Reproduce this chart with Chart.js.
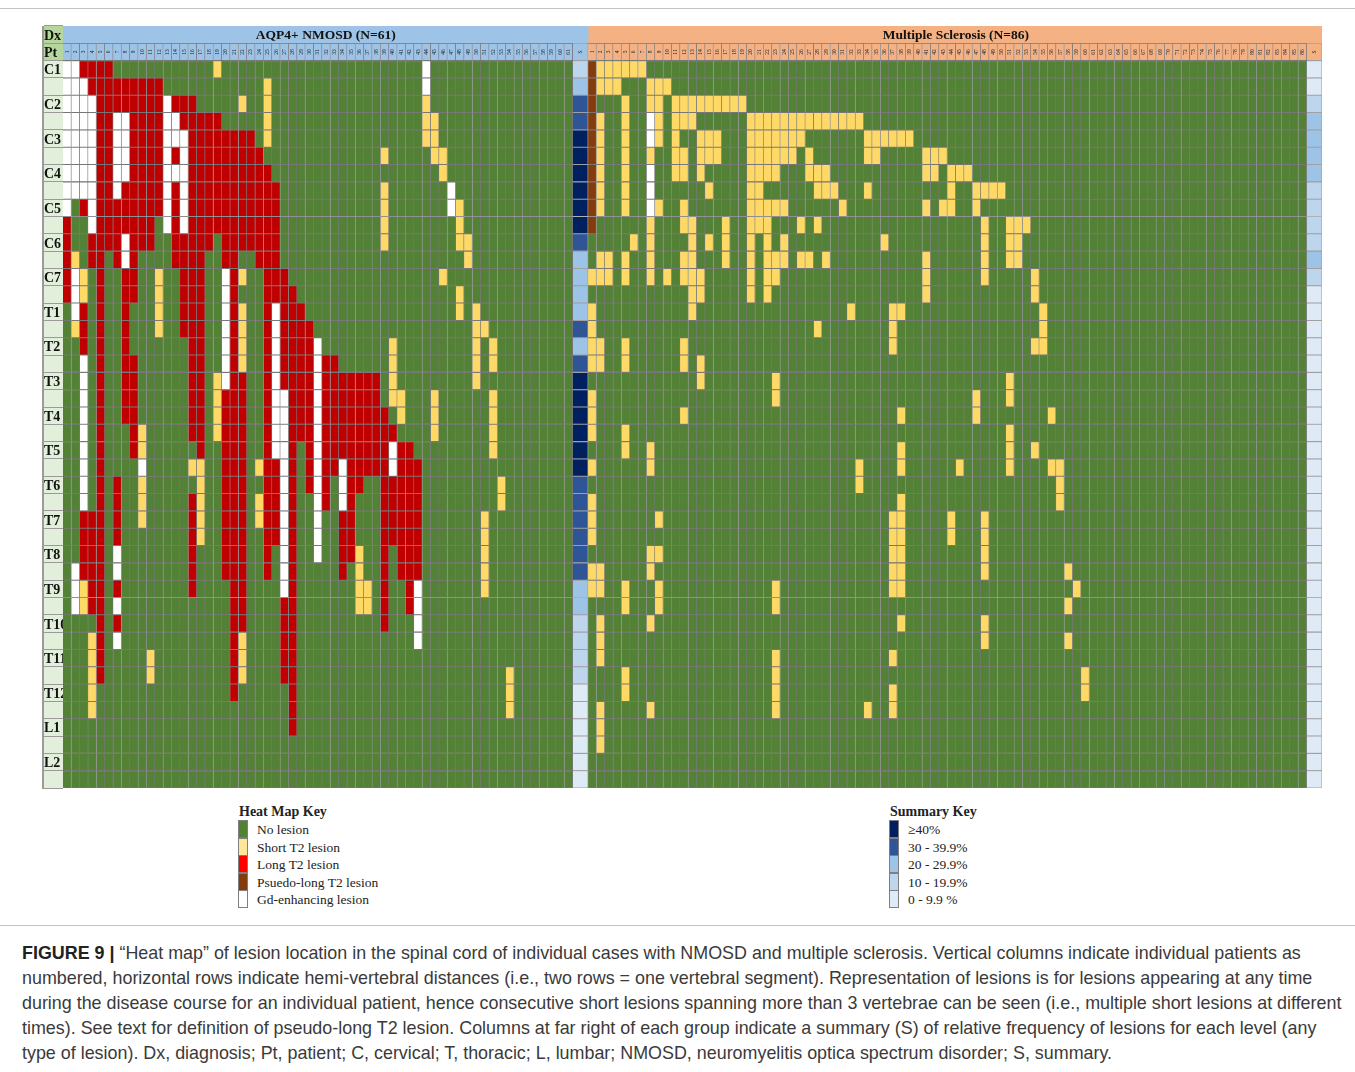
<!DOCTYPE html>
<html>
<head>
<meta charset="utf-8">
<title>Figure 9</title>
<script src="https://cdn.jsdelivr.net/npm/chart.js@4/dist/chart.umd.min.js"></script>
<style>
    html, body { margin: 0; padding: 0; background: #fff; }
    body { position: relative; width: 1355px; height: 1072px; overflow: hidden; }
    #heat_map { position: absolute; left: 0; top: 0; }
    .rule { position: absolute; left: 0; width: 1355px; height: 1px; background: #c4c4c4; }
    .key { position: absolute; font-family: "Liberation Serif", serif; font-size: 13.5px; color: #222; white-space: nowrap; }
    .key b { position: absolute; left: 0; top: 0; font-size: 14px; }
    .key i { position: absolute; width: 8px; height: 16px; border: 1px solid #7f7f7f; }
    .key span { position: absolute; left: 18px; }
    #caption { position: absolute; left: 22px; top: 941px; font-family: "Liberation Sans", sans-serif; font-size: 17.9px; line-height: 25px; color: #3a3a3a; white-space: nowrap; }
    #caption b { color: #222; }
</style>
</head>
<body>
<div class="rule" style="top:8px"></div>
<canvas id="heat_map" width="1355" height="800"></canvas>
<div class="key" id="heat_key" style="left:239px;top:804px"><b>Heat Map Key</b></div>
<div class="key" id="summary_key" style="left:890px;top:804px"><b>Summary Key</b></div>
<div class="rule" style="top:925px"></div>
<div id="caption">
<b>FIGURE 9 |</b> “Heat map” of lesion location in the spinal cord of individual cases with NMOSD and multiple sclerosis. Vertical columns indicate individual patients as<br>
numbered, horizontal rows indicate hemi-vertebral distances (i.e., two rows = one vertebral segment). Representation of lesions is for lesions appearing at any time<br>
during the disease course for an individual patient, hence consecutive short lesions spanning more than 3 vertebrae can be seen (i.e., multiple short lesions at different<br>
times). See text for definition of pseudo-long T2 lesion. Columns at far right of each group indicate a summary (S) of relative frequency of lesions for each level (any<br>
type of lesion). Dx, diagnosis; Pt, patient; C, cervical; T, thoracic; L, lumbar; NMOSD, neuromyelitis optica spectrum disorder; S, summary.
</div>
<script>
const row_labels = ['Dx', 'Pt', 'C1', '', 'C2', '', 'C3', '', 'C4', '', 'C5', '', 'C6', '', 'C7', '', 'T1', '', 'T2', '', 'T3', '', 'T4', '', 'T5', '', 'T6', '', 'T7', '', 'T8', '', 'T9', '', 'T10', '', 'T11', '', 'T12', '', 'L1', '', 'L2', ''];

// one string per row, runs of patient numbers (0 based): y short, r long, b pseudo-long, w Gd-enhancing
const nmosd_rows = [
    'w0-1 r2-5 y18 w43',
    'w0-2 r3-11 y24 w43',
    'w0-3 r4-11 w12 r13-15 y21 y24 y43',
    'w0-3 r4-5 w6-7 r8-11 w12-13 r14-18 y24 y43-44',
    'w0-3 r4-5 w6-7 r8-11 w12-14 r15-22 y24 y43-44',
    'w0-3 r4-5 w6-7 r8-11 w12 r13 w14 r15-23 y38 y44-45',
    'w0-3 r4-5 w6-7 r8-11 w12-14 r15-24 y45',
    'w0-3 r4-5 w6 r7-11 w12 r13 w14 r15-25 y38 w46',
    'w0 r2 w3 r4-11 w12 r13 w14 r15-25 y38 w46 y47',
    'r0 w3 r4-10 w12 r13 w14 r15-25 y38 y47',
    'r0 r3-6 w7 r8-10 r13-17 r19-25 y38 y47-48',
    'r0 y1 r3-4 r6 w7 r8 r13-16 r19-20 r23-25 y48',
    'r0 w1 y2 r4 r7-8 y11 r14-16 w19 r20 y21 r24-26 y45',
    'r0 w1 y2 r4 r7-8 y11 r14-16 w19 r20 r24-27 y47',
    'w1 r2 r4 r7 y11 r14-16 w19 r20 y21 r24 w25 r26-28 y47 y49',
    'y1 r2 r4 r7 y11 r14-16 w19 r20 y21 r24 w25 r26-29 y49-50',
    'r2 r4 r7 r15-16 w19 r20 y21 r24 w25 r26-29 w30 y39 y49 y51',
    'w2 r4 r7-8 r15-16 w19 r20 y21 r24 w25 r26-29 w30 r31-32 y39 y49 y51',
    'w2 r4 r7-8 r15-16 y18 w19 r20-21 r24 w25 r26-29 w30 r31-37 y39 y49',
    'w2 r4 r7-8 r15-16 y18 r19-21 r24 w25-26 r27-29 w30 r31-37 y39-40 y44 y51',
    'w2 r4 r7-8 r15-16 y18 r19-21 r24 w25-26 r27-29 w30 r31-38 y40 y44 y51',
    'w2 r4 r8 y9 r15-16 y18 r19-21 r24 w25-26 r27-29 w30 r31-39 y44 y51',
    'w2 r4 r8 y9 r16 r19-21 r24 w25-26 r27 r29 w30 r31-38 w39 r40-41 y51',
    'w2 r4 w9 y15-16 r19-21 y23 r24-25 w26 r27 r29 w30 r31-32 w33 r34-38 w39 r40-42',
    'w2 r4 r6 y9 y16 r19-21 r24-25 w26 r27 r29 w30 r31 w33 r34-35 r38-42 y52',
    'w2 r4 r6 y9 r15 y16 r19-21 y23 r24-25 w26 r27 w30 r31 w33 r34 r38-42 y52',
    'r2-4 r6 y9 r15 y16 r19-21 y23 r24-25 w26 r27 w30 r33-34 r38-42 y50',
    'r2-4 r6 r15 y16 r19-21 r24-25 w26 r27 w30 r33-34 r38-42 y50',
    'r2-4 w6 r15 r19-21 r24 w26 r27 w30 r33-34 y35 r38 r40-42 y50',
    'w1 r2-4 w6 r15 r19-21 r24 w26 r27 r33 y35 r38 r40-42 y50',
    'w1 y2 r3-4 r6 r15 r20-21 w26 r27 y35-36 r38 r41 w42 y50',
    'w1 y2 r3-4 w6 r20-21 r26-27 y35-36 r38 r41 w42',
    'r4 r6 r20-21 r26-27 r38 w42',
    'y3 r4 w6 r20 y21 r26-27 w42',
    'y3 r4 y10 r20 y21 r26-27',
    'y3 r4 y10 r20 y21 r26-27 y53',
    'y3 r20 r27 y53',
    'y3 r27 y53',
    'r27',
    '',
    '',
    ''
];
const ms_rows = [
    'b0 y1-6',
    'b0 y1-3 y7-9',
    'b0 y4 y7-8 y10-18',
    'b0 y1 y4 w7 y8 y10-12 y19-32',
    'b0 y1 y4 w7 y8 y10 y13-15 y19-25 y33-38',
    'b0 y1 y4 y7 y10-11 y13-15 y19-24 y26 y33-34 y40-42',
    'b0 y1 y4 w7 y10-11 y13 y19-22 y26-28 y40-41 y43-45',
    'b0 y1 y4 w7 y14 y19-20 y27-29 y33 y43 y46-49',
    'b0 y1 y4 w7 y8 y11 y19-23 y30 y40 y42-43 y46',
    'b0 y7 y11-12 y16 y19-21 y25 y27 y47 y50-52',
    'y5 y7 y12 y14 y16 y19 y21 y23 y35 y47 y50-51',
    'y1-2 y4 y7 y11-12 y16 y19 y21-23 y25-26 y28 y40 y47 y50-51',
    'y0-2 y4 y7 y9 y11-13 y19 y21-22 y40 y47 y53',
    'y12-13 y19 y21 y40 y53',
    'y0 y12 y31 y36-37 y54',
    'y0 y27 y36 y54',
    'y0-1 y4 y11 y36 y53-54',
    'y0-1 y4 y11 y13',
    'y13 y22 y50',
    'y0 y22 y46 y50',
    'y0 y11 y37 y46 y55',
    'y0 y4 y50',
    'y4 y7 y37 y50 y53',
    'y0 y7 y32 y37 y44 y50 y55-56',
    'y32 y56',
    'y0 y37 y56',
    'y0 y8 y36-37 y43 y47',
    'y0 y36-37 y43 y47',
    'y7-8 y36-37 y47',
    'y0-1 y7 y36-37 y47 y57',
    'y0-1 y4 y8 y22 y36-37 y58',
    'y4 y8 y22 y57',
    'y1 y7 y37 y47',
    'y1 y47 y57',
    'y1 y22 y36',
    'y4 y22 y59',
    'y4 y22 y36 y59',
    'y1 y7 y22 y33 y36',
    'y1',
    'y1',
    '',
    ''
];
// summary class per row: 0 = 0-9.9%, 1 = 10-19.9%, 2 = 20-29.9%, 3 = 30-39.9%, 4 = >=40%
const nmosd_summary = [1, 2, 3, 3, 4, 4, 4, 4, 4, 4, 3, 2, 2, 2, 2, 3, 2, 3, 4, 4, 4, 4, 4, 4, 3, 3, 3, 3, 3, 3, 2, 2, 1, 1, 1, 1, 0, 0, 0, 0, 0, 0];
const ms_summary = [0, 0, 1, 2, 2, 2, 2, 1, 1, 1, 1, 2, 1, 0, 0, 0, 0, 0, 0, 0, 0, 0, 0, 0, 0, 0, 0, 0, 0, 0, 0, 0, 0, 0, 0, 0, 0, 0, 0, 0, 0, 0];

const nmosd_title = 'AQP4+ NMOSD (N=61)';
const ms_title = 'Multiple Sclerosis (N=86)';
const nmosd_count = 61;
const ms_count = 86;

const heat_key_labels = ['No lesion', 'Short T2 lesion', 'Long T2 lesion', 'Psuedo-long T2 lesion', 'Gd-enhancing lesion'];
const heat_key_colors = ['#538135', '#ffe699', '#ff0000', '#843c0c', '#ffffff'];
const summary_key_labels = ['≥40%', '30 - 39.9%', '20 - 29.9%', '10 - 19.9%', '0 - 9.9 %'];
const summary_key_colors = ['#002060', '#2f5597', '#9dc3e6', '#bdd6ee', '#deeaf6'];

const cell_colors = { g: '#538135', y: '#ffd966', r: '#c00000', b: '#843c0c', w: '#ffffff' };
const summary_colors = ['#deeaf6', '#bdd6ee', '#9dc3e6', '#2f5597', '#002060'];
const nmosd_header = '#9dc3e6';
const ms_header = '#f4b183';
const grid_color = '#787878';
const summary_grid_color = '#a0a0a0';
const summary_width = 1.84;

// turn 'w0-1 r2' into a lookup of patient -> cell type
function parse_row(row) {
    const cells = {};
    row.split(' ').filter(Boolean).forEach(function (run) {
        const ends = run.slice(1).split('-').map(Number);
        for (let i = ends[0]; i <= ends[ends.length - 1]; i++) {
            cells[i] = run[0];
        }
    });
    return cells;
}

const datasets = [];
const pt_cells = [];

function add_column(label, start, end, header_color, colors, border) {
    const data = [null, [start, end]];
    const backgrounds = [header_color, header_color];
    colors.forEach(function (color) {
        data.push([start, end]);
        backgrounds.push(color);
    });
    datasets.push({ label: label, data: data, backgroundColor: backgrounds, borderColor: border, borderWidth: 0.85 });
    pt_cells.push({ label: label, center: (start + end) / 2 });
}

function add_group(rows, summary, count, header_color, offset) {
    const parsed = rows.map(parse_row);
    for (let p = 0; p < count; p++) {
        add_column(String(p + 1), offset + p, offset + p + 1, header_color, parsed.map(function (cells) {
            return cell_colors[cells[p] || 'g'];
        }), grid_color);
    }
    add_column('S', offset + count, offset + count + summary_width, header_color, summary.map(function (level) {
        return summary_colors[level];
    }), summary_grid_color);
}

add_group(nmosd_rows, nmosd_summary, nmosd_count, nmosd_header, 0);
const ms_start = nmosd_count + summary_width;
add_group(ms_rows, ms_summary, ms_count, ms_header, ms_start);
const x_end = ms_start + ms_count + summary_width;

datasets.push({ label: nmosd_title, data: [[0, ms_start]], backgroundColor: nmosd_header, borderColor: grid_color, borderWidth: 0 });
datasets.push({ label: ms_title, data: [[ms_start, x_end]], backgroundColor: ms_header, borderColor: grid_color, borderWidth: 0 });

// pale column behind the row labels
const label_column = {
    id: 'label_column',
    beforeDraw: function (chart) {
        const ctx = chart.ctx;
        const area = chart.chartArea;
        const y = chart.scales.y;
        ctx.save();
        ctx.fillStyle = '#e2efda';
        ctx.fillRect(y.left, area.top, y.width, area.height);
        ctx.fillStyle = '#b5d69c';
        ctx.fillRect(y.left, area.top, y.width, area.height / row_labels.length * 2);
        ctx.fillStyle = '#9a9a9a';
        ctx.fillRect(y.left - 2, area.top, 2, area.height + 1);
        ctx.restore();
    }
};

// group titles and patient numbers in the two header rows
const header_text = {
    id: 'header_text',
    afterDatasetsDraw: function (chart) {
        const ctx = chart.ctx;
        const x = chart.scales.x;
        const y = chart.scales.y;
        ctx.save();
        ctx.fillStyle = '#111';
        ctx.textAlign = 'center';
        ctx.textBaseline = 'middle';
        ctx.font = 'bold 13.5px "Liberation Serif"';
        ctx.fillText(nmosd_title, x.getPixelForValue(31.45), y.getPixelForValue(0) + 1);
        ctx.fillText(ms_title, x.getPixelForValue(ms_start + 44.02), y.getPixelForValue(0) + 1);
        ctx.font = '5.5px "Liberation Serif"';
        ctx.fillStyle = '#223';
        pt_cells.forEach(function (cell) {
            ctx.save();
            ctx.translate(x.getPixelForValue(cell.center), y.getPixelForValue(1));
            ctx.rotate(-Math.PI / 2);
            ctx.fillText(cell.label, 0, 0);
            ctx.restore();
        });
        ctx.restore();
    }
};

new Chart(document.getElementById('heat_map').getContext('2d'), {
    type: 'bar',
    data: { labels: row_labels, datasets: datasets },
    options: {
        indexAxis: 'y',
        responsive: false,
        animation: false,
        layout: { padding: { left: 44, right: 33, top: 26, bottom: 12 } },
        datasets: { bar: { grouped: false, barPercentage: 1, categoryPercentage: 1 } },
        plugins: { legend: { display: false }, title: { display: false } },
        scales: {
            x: { type: 'linear', min: 0, max: x_end, display: false },
            y: {
                type: 'category',
                afterFit: function (scale) { scale.width = 19; },
                border: { display: false },
                grid: { color: grid_color, lineWidth: 1, tickColor: '#9a9a9a', tickLength: 19, drawOnChartArea: false },
                ticks: {
                    autoSkip: false,
                    crossAlign: 'far',
                    padding: 0,
                    labelOffset: 1.5,
                    color: '#111',
                    font: { family: '"Liberation Serif"', size: 14, weight: 'bold' }
                }
            }
        }
    },
    plugins: [label_column, header_text]
});

// the two key blocks under the chart
function build_key(id, labels, colors) {
    const box = document.getElementById(id);
    labels.forEach(function (label, i) {
        const swatch = document.createElement('i');
        swatch.style.left = '-1px';
        swatch.style.top = (16 + i * 17.5) + 'px';
        swatch.style.background = colors[i];
        box.appendChild(swatch);
        const text = document.createElement('span');
        text.style.top = (18 + i * 17.5) + 'px';
        text.textContent = label;
        box.appendChild(text);
    });
}
build_key('heat_key', heat_key_labels, heat_key_colors);
build_key('summary_key', summary_key_labels, summary_key_colors);
</script>
</body>
</html>
